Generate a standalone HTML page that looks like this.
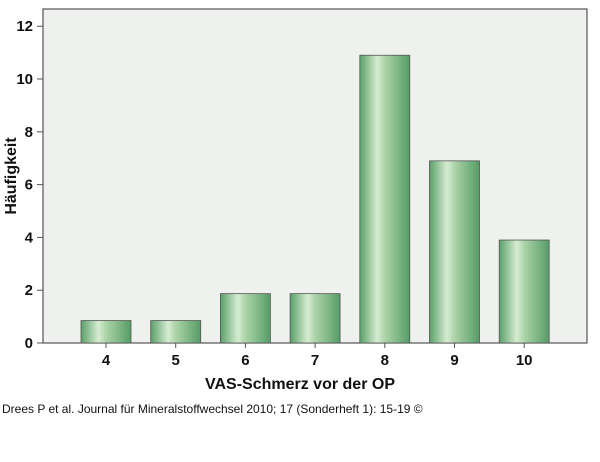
<!DOCTYPE html>
<html><head><meta charset="utf-8"><style>
body{margin:0;background:#fff;font-family:"Liberation Sans",sans-serif}
</style></head><body>
<svg width="600" height="457" viewBox="0 0 600 457" xmlns="http://www.w3.org/2000/svg">
<defs>
<linearGradient id="g" x1="0" x2="1" y1="0" y2="0">
<stop offset="0" stop-color="#5aa068"/>
<stop offset="0.35" stop-color="#d6ecd2"/>
<stop offset="0.5" stop-color="#acd4a8"/>
<stop offset="1" stop-color="#569c66"/>
</linearGradient>
</defs>
<rect x="43" y="9" width="544" height="334" fill="#eef1ee" stroke="#555" stroke-width="1.2"/>
<g id="bars"></g>
<g id="axes"></g>
<text x="300" y="389" text-anchor="middle" font-size="16" font-weight="bold" fill="#111">VAS-Schmerz vor der OP</text>
<text transform="translate(16,176) rotate(-90)" text-anchor="middle" font-size="16" font-weight="bold" fill="#111">Häufigkeit</text>
<text x="2" y="413" font-size="12" fill="#111">Drees P et al. Journal für Mineralstoffwechsel 2010; 17 (Sonderheft 1): 15-19 ©</text>
</svg>
<script>
const categories=["4","5","6","7","8","9","10"];
const values=[0.85,0.85,1.87,1.87,10.9,6.9,3.9];
const yTicks=[0,2,4,6,8,10,12];
const ns="http://www.w3.org/2000/svg";
const y0=343, yPer=26.4;
function yScale(v){return y0-v*yPer;}
function xScale(i){return 106+i*69.7;}
const bw=50;
const bars=document.getElementById('bars'), axes=document.getElementById('axes');
values.forEach((v,i)=>{
 const r=document.createElementNS(ns,'rect');
 r.setAttribute('x',xScale(i)-bw/2);r.setAttribute('y',yScale(v));
 r.setAttribute('width',bw);r.setAttribute('height',y0-yScale(v));
 r.setAttribute('fill','url(#g)');r.setAttribute('stroke','#555');r.setAttribute('stroke-width','0.8');
 
 
 bars.appendChild(r);
 const t=document.createElementNS(ns,'text');
 t.setAttribute('x',xScale(i));t.setAttribute('y',365);t.setAttribute('text-anchor','middle');
 t.setAttribute('font-size','15');t.setAttribute('font-weight','bold');t.setAttribute('fill','#111');t.textContent=categories[i];
 
 
 axes.appendChild(t);
 const l=document.createElementNS(ns,'line');
 l.setAttribute('x1',xScale(i));l.setAttribute('x2',xScale(i));l.setAttribute('y1',y0);l.setAttribute('y2',y0+5);
 l.setAttribute('stroke','#555');
 
 
 axes.appendChild(l);
});
yTicks.forEach(v=>{
 const t=document.createElementNS(ns,'text');
 t.setAttribute('x',33);t.setAttribute('y',yScale(v)+5);t.setAttribute('text-anchor','end');
 t.setAttribute('font-size','15');t.setAttribute('font-weight','bold');t.setAttribute('fill','#111');t.textContent=v;
 
 
 axes.appendChild(t);
 const l=document.createElementNS(ns,'line');
 l.setAttribute('x1',37);l.setAttribute('x2',43);l.setAttribute('y1',yScale(v));l.setAttribute('y2',yScale(v));
 l.setAttribute('stroke','#555');
 
 
 axes.appendChild(l);
});
</script>
</body></html>
